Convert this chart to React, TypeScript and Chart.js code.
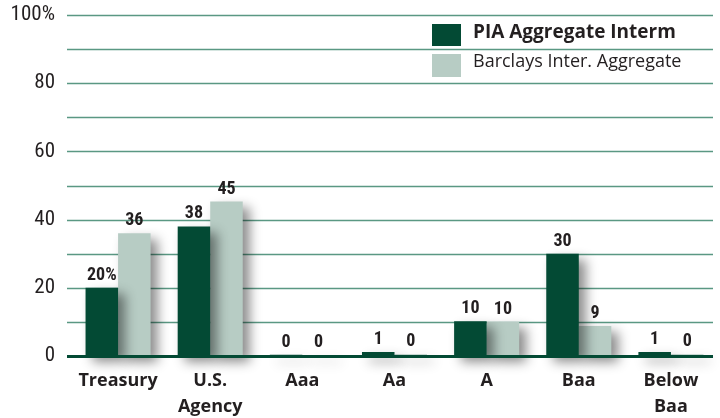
import React, { useEffect, useRef } from "react";
import { Chart, registerables } from "chart.js";

Chart.register(...registerables);

const categories: (string | string[])[] = ["Treasury", ["U.S.", "Agency"], "Aaa", "Aa", "A", "Baa", ["Below", "Baa"]];
const piaValues = [20, 38, 0.4, 1.2, 10.2, 30, 1.2];
const barclaysValues = [36, 45.3, 0.3, 0.5, 10, 8.8, 0.5];
const piaLabels = ["20%", "38", "0", "1", "10", "30", "1"];
const barclaysLabels = ["36", "45", "0", "0", "10", "9", "0"];
const yTicks = [0, 20, 40, 60, 80, 100];
const seriesNames = ["PIA Aggregate Interm", "Barclays Inter. Aggregate"];

const DARK = "#034a34";
const LIGHT = "#b7ccc4";
const GRID = "#5a9883";
const TEXT = "#231f20";
const COND = '"Roboto Condensed", Roboto, sans-serif';
const WIDE = '"Open Sans", Roboto, sans-serif';

export default function App() {
  const ref = useRef<HTMLCanvasElement | null>(null);

  useEffect(() => {
    document.body.style.margin = "0";
    const canvas = ref.current;
    if (!canvas) return;

    const gridPlugin = {
      id: "customGrid",
      beforeDatasetsDraw(chart: any) {
        const { ctx } = chart;
        const y = chart.scales.y;
        ctx.save();
        ctx.strokeStyle = GRID;
        ctx.lineWidth = 1.5;
        for (let v = 10; v <= 100; v += 10) {
          const py = Math.round(y.getPixelForValue(v)) + 0.5;
          ctx.beginPath();
          ctx.moveTo(67, py);
          ctx.lineTo(713, py);
          ctx.stroke();
        }
        ctx.restore();
        ctx.save();
        ctx.shadowColor = "rgba(0,0,0,0.45)";
        ctx.shadowBlur = 12;
        ctx.shadowOffsetX = 7;
        ctx.shadowOffsetY = 6;
      },
      afterDatasetsDraw(chart: any) {
        const { ctx } = chart;
        ctx.restore();
        const y = chart.scales.y;
        const py = y.getPixelForValue(0);
        ctx.save();
        ctx.strokeStyle = DARK;
        ctx.lineWidth = 3;
        ctx.beginPath();
        ctx.moveTo(67, py + 0.5);
        ctx.lineTo(713, py + 0.5);
        ctx.stroke();
        ctx.fillStyle = TEXT;
        ctx.font = `bold 18px ${COND}`;
        ctx.textAlign = "center";
        ctx.textBaseline = "alphabetic";
        const labelSets = [piaLabels, barclaysLabels];
        chart.data.datasets.forEach((_: any, di: number) => {
          const meta = chart.getDatasetMeta(di);
          meta.data.forEach((bar: any, i: number) => {
            ctx.fillText(labelSets[di][i], bar.x, bar.y - 8);
          });
        });
        ctx.restore();
      },
      afterDraw(chart: any) {
        const { ctx } = chart;
        ctx.save();
        ctx.fillStyle = DARK;
        ctx.fillRect(432, 24, 29, 22);
        ctx.fillStyle = LIGHT;
        ctx.fillRect(432, 54, 29, 23);
        ctx.fillStyle = TEXT;
        ctx.textAlign = "left";
        ctx.textBaseline = "alphabetic";
        ctx.font = `bold 19px ${WIDE}`;
        ctx.fillText(seriesNames[0], 473, 38);
        ctx.font = `18px ${WIDE}`;
        ctx.fillText(seriesNames[1], 473, 67);
        ctx.restore();
      },
    };

    const chart = new Chart(canvas, {
      type: "bar",
      data: {
        labels: categories as any,
        datasets: [
          {
            label: seriesNames[0],
            data: piaValues,
            backgroundColor: DARK,
            borderWidth: 0,
            barPercentage: 1,
            categoryPercentage: 0.706,
            clip: false as any,
          },
          {
            label: seriesNames[1],
            data: barclaysValues,
            backgroundColor: LIGHT,
            borderWidth: 0,
            barPercentage: 1,
            categoryPercentage: 0.706,
            clip: false as any,
          },
        ],
      },
      options: {
        animation: false,
        responsive: true,
        maintainAspectRatio: false,
        layout: { autoPadding: false, padding: { top: 15, right: 3, left: 0, bottom: 0 } },
        plugins: {
          legend: { display: false },
          tooltip: { enabled: false },
        },
        scales: {
          x: {
            grid: { display: false },
            border: { display: false },
            ticks: {
              color: TEXT,
              font: { family: WIDE, size: 18, weight: "bold", lineHeight: 1.45 },
              padding: 4,
              maxRotation: 0,
              autoSkip: false,
            },
            afterFit(scale: any) {
              scale.height = 62;
            },
          },
          y: {
            min: 0,
            max: 100,
            grid: { display: false },
            border: { display: false },
            ticks: {
              stepSize: 10,
              color: TEXT,
              font: { family: COND, size: 21, lineHeight: 0.6 },
              padding: 9,
              callback: (v: any) => (yTicks.includes(Number(v)) ? (Number(v) === 100 ? "100%" : String(v)) : ""),
            },
            afterFit(scale: any) {
              scale.width = 72;
              scale.paddingTop = 0;
              scale.paddingBottom = 0;
            },
          },
        },
      },
      plugins: [gridPlugin],
    });

    return () => chart.destroy();
  }, []);

  return (
    <div style={{ width: 720, height: 418, position: "relative" }}>
      <canvas ref={ref} />
    </div>
  );
}
